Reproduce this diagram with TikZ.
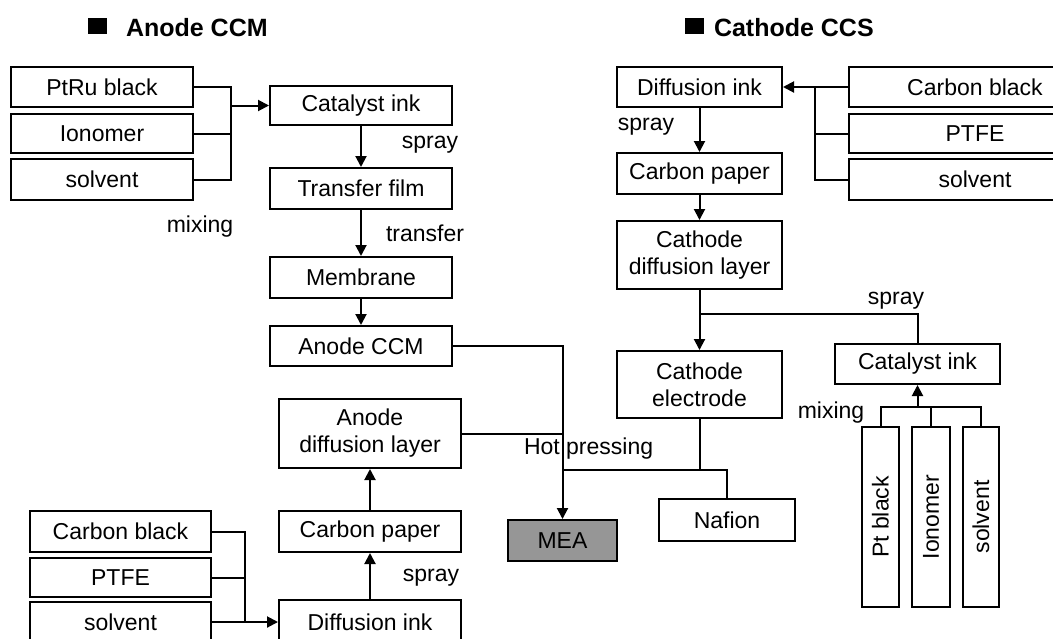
\documentclass[tikz,border=0pt]{standalone}
\usepackage{fontspec}
\setmainfont{Liberation Sans}
\usetikzlibrary{arrows.meta}
\definecolor{meagray}{RGB}{150,150,150}
\begin{document}
\begin{tikzpicture}[x=1pt,y=-1pt,
  line width=2pt,
  box/.style={draw, fill=white, rectangle, inner sep=0pt, align=center, font=\fontsize{23}{27}\selectfont},
  lbl/.style={inner sep=0pt, font=\fontsize{23}{27}\selectfont},
  arr/.style={-{Triangle[length=11pt,width=11pt]}},
  ttl/.style={inner sep=0pt, anchor=west, font=\fontsize{25}{30}\selectfont\bfseries},
  sq/.style={fill=black, inner sep=0pt, minimum width=19pt, minimum height=16pt}
]
\useasboundingbox (0,0) rectangle (1053,638);
\clip (0,0) rectangle (1053,638);

% titles
\node[sq] (sq1) at (97.5,26) {};
\node[ttl] (t1) at (125,27.5) {Anode CCM};
\node[sq] (sq2) at (694,26) {};
\node[ttl] (t2) at (713,27.5) {Cathode CCS};

% anode top
\node[box, minimum width=182pt, minimum height=40pt] (ptru) at (102,87) {PtRu black};
\node[box, minimum width=182pt, minimum height=39pt] (iono1) at (102,133.5) {Ionomer};
\node[box, minimum width=182pt, minimum height=41pt] (solv1) at (102,179.5) {solvent};
\node[box, minimum width=182pt, minimum height=39pt] (cink1) at (361,105.5) {Catalyst ink};
\node[box, minimum width=182pt, minimum height=41pt] (tfilm) at (361,188.5) {Transfer film};
\node[box, minimum width=182pt, minimum height=41pt] (memb) at (361,277.5) {Membrane};
\node[box, minimum width=182pt, minimum height=40pt] (accm) at (361,346) {Anode CCM};

% anode bottom
\node[box, minimum width=182pt, minimum height=69pt] (adl) at (370,433.5) {Anode\\diffusion layer};
\node[box, minimum width=182pt, minimum height=41pt] (cpap1) at (370,531.5) {Carbon paper};
\node[box, minimum width=182pt, minimum height=44pt] (dink1) at (370,622) {Diffusion ink};
\node[box, minimum width=181pt, minimum height=41pt] (cb1) at (120.5,531.5) {Carbon black};
\node[box, minimum width=181pt, minimum height=39pt] (ptfe1) at (120.5,577.5) {PTFE};
\node[box, minimum width=181pt, minimum height=40pt] (solv2) at (120.5,622) {solvent};

% center
\node[box, fill=meagray, minimum width=109pt, minimum height=41pt] (mea) at (562.5,540.5) {MEA};
\node[box, minimum width=136pt, minimum height=42pt] (nafion) at (727,520) {Nafion};

% cathode
\node[box, minimum width=165pt, minimum height=40pt] (dink2) at (699.5,87) {Diffusion ink};
\node[box, minimum width=165pt, minimum height=41pt] (cpap2) at (699.5,173.5) {Carbon paper};
\node[box, minimum width=165pt, minimum height=68pt] (cdl) at (699.5,255) {Cathode\\diffusion layer};
\node[box, minimum width=165pt, minimum height=67pt] (cel) at (699.5,384.5) {Cathode\\electrode};
\node[box, minimum width=252pt, minimum height=40pt] (cb2) at (975,87) {Carbon black};
\node[box, minimum width=252pt, minimum height=39pt] (ptfe2) at (975,133.5) {PTFE};
\node[box, minimum width=252pt, minimum height=41pt] (solv3) at (975,179.5) {solvent};
\node[box, minimum width=165pt, minimum height=40pt] (cink2) at (917.5,364) {Catalyst ink};
\node[box, minimum width=37pt, minimum height=180pt] (ptb) at (880.5,517) {\rotatebox{90}{Pt black}};
\node[box, minimum width=38pt, minimum height=180pt] (iono2) at (931,517) {\rotatebox{90}{Ionomer}};
\node[box, minimum width=36pt, minimum height=180pt] (solv4) at (981,517) {\rotatebox{90}{solvent}};

% labels
\node[lbl] (lspray1) at (430,145) {spray};
\node[lbl] (lmix1) at (200,227) {mixing};
\node[lbl] (ltrans) at (425,233) {transfer};
\node[lbl, anchor=west] (lhot) at (523,449) {Hot pressing};
\node[lbl] (lspray2) at (431,578) {spray};
\node[lbl] (lspray3) at (646,127) {spray};
\node[lbl] (lspray4) at (896,301) {spray};
\node[lbl] (lmix2) at (831,413) {mixing};

% coordinates
\coordinate (m1) at (231,105.5);
\coordinate (m2) at (245,622);
\coordinate (m3) at (815,87);
\coordinate (j1) at (699.5,314);
\coordinate (j2) at (699.5,470);
\coordinate (m4) at (917.5,407);
\coordinate (m4l) at (880.5,407);
\coordinate (m4r) at (981,407);

% anode top connectors
\draw (ptru.east) -| (m1) |- (solv1.east);
\draw (iono1.east) -- (iono1.east -| m1);
\draw[arr] (m1) -- (cink1.west);
\draw[arr] (cink1.south) -- (tfilm.north);
\draw[arr] (tfilm.south) -- (memb.north);
\draw[arr] (memb.south) -- (accm.north);
\draw[arr] (accm.east) -| (mea.north);
\draw (adl.east) -- (adl.east -| mea.north);

% anode bottom connectors
\draw (cb1.east) -| (m2);
\draw (ptfe1.east) -- (ptfe1.east -| m2);
\draw (solv2.east) -- (m2);
\draw[arr] (m2) -- (dink1.west);
\draw[arr] (dink1.north) -- (cpap1.south);
\draw[arr] (cpap1.north) -- (adl.south);

% cathode connectors
\draw[arr] (cb2.west) -- (dink2.east);
\draw (m3) |- (solv3.west);
\draw (ptfe2.west) -- (ptfe2.west -| m3);
\draw[arr] (dink2.south) -- (cpap2.north);
\draw[arr] (cpap2.south) -- (cdl.north);
\draw[arr] (cdl.south) -- (cel.north);
\draw (cink2.north) |- (j1);
\draw (cel.south) -- (j2);
\draw (mea.north |- j2) -| (nafion.north);

% catalyst ink (cathode) mixing
\draw (ptb.north) |- (m4r) -- (solv4.north);
\draw (iono2.north) -- (iono2.north |- m4);
\draw[arr] (m4) -- (cink2.south);
\end{tikzpicture}
\end{document}
